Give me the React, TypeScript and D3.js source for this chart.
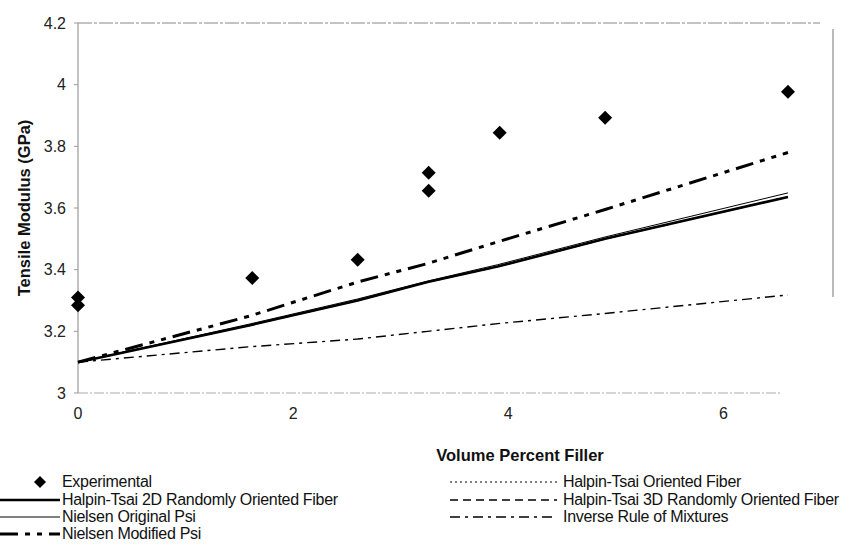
import React from "react";
import * as d3 from "d3";

const W = 852;
const H = 545;

const xTicks = [0, 2, 4, 6];
const yTicks = [3, 3.2, 3.4, 3.6, 3.8, 4, 4.2];

const expX = [0, 0, 1.62, 2.6, 3.26, 3.26, 3.92, 4.9, 6.6];
const expY = [3.31, 3.285, 3.373, 3.432, 3.714, 3.656, 3.844, 3.893, 3.977];

const modelX = [0, 1.6, 2.6, 3.25, 3.9, 4.9, 6.6];
const htOriented = [3.1, 3.22, 3.3, 3.36, 3.41, 3.5, 3.636];
const ht2D = [3.1, 3.22, 3.3, 3.36, 3.41, 3.5, 3.636];
const ht3D = [3.1, 3.22, 3.3, 3.36, 3.41, 3.5, 3.636];
const nielsenOrig = [3.1, 3.224, 3.305, 3.363, 3.416, 3.506, 3.649];
const inverseROM = [3.1, 3.15, 3.175, 3.2, 3.225, 3.258, 3.318];
const nielsenMod = [3.1, 3.25, 3.36, 3.42, 3.49, 3.595, 3.78];

const FONT = "'Liberation Sans', Arial, sans-serif";

type Style = { w: number; dash?: string };
const styles: Record<string, Style> = {
  htOriented: { w: 1, dash: "2,3" },
  ht2D: { w: 2.6 },
  ht3D: { w: 1.5, dash: "8,5" },
  nielsenOrig: { w: 1 },
  inverseROM: { w: 1.4, dash: "10,5,3,5" },
  nielsenMod: { w: 3, dash: "18,7,5,7,5,7" },
};

export default function App() {
  const x = d3.scaleLinear().domain([0, 7]).range([78, 831]);
  const y = d3.scaleLinear().domain([3, 4.2]).range([393, 23]);
  const line = (vals: number[]) =>
    d3
      .line<number>()
      .x((_, i) => x(modelX[i]))
      .y((v) => y(v))(vals) as string;

  const series: [string, number[]][] = [
    ["htOriented", htOriented],
    ["ht3D", ht3D],
    ["inverseROM", inverseROM],
    ["nielsenOrig", nielsenOrig],
    ["ht2D", ht2D],
    ["nielsenMod", nielsenMod],
  ];

  const diamond = (cx: number, cy: number, r: number) =>
    `M${cx},${cy - r}L${cx + r},${cy}L${cx},${cy + r}L${cx - r},${cy}Z`;

  const legendLeft: [string, string][] = [
    ["exp", "Experimental"],
    ["ht2D", "Halpin-Tsai 2D Randomly Oriented Fiber"],
    ["nielsenOrig", "Nielsen Original Psi"],
    ["nielsenMod", "Nielsen Modified Psi"],
  ];
  const legendRight: [string, string][] = [
    ["htOriented", "Halpin-Tsai Oriented Fiber"],
    ["ht3D", "Halpin-Tsai 3D Randomly Oriented Fiber"],
    ["inverseROM", "Inverse Rule of Mixtures"],
  ];
  const rowY = [487, 505, 522, 539];

  return (
    <svg width={W} height={H} style={{ position: "absolute", left: 0, top: 0, background: "#fff" }}>
      <line x1={78} x2={820} y1={23} y2={23} stroke="#888" strokeWidth={1} strokeDasharray="14,2,3,2" />
      <line x1={833} x2={833} y1={29} y2={297} stroke="#777" strokeWidth={1} />
      <line x1={78} x2={78} y1={23} y2={393} stroke="#999" strokeWidth={1.2} />
      {yTicks.map((t) => (
        <g key={t}>
          <line x1={74} x2={78} y1={y(t)} y2={y(t)} stroke="#999" />
          <text x={66} y={y(t) + 5.5} fontSize={16} fontFamily={FONT} textAnchor="end" fill="#222">
            {String(t)}
          </text>
        </g>
      ))}
      <line x1={78} x2={780} y1={393} y2={393} stroke="#aaa" strokeWidth={1} strokeDasharray="10,2,2,2" />
      {xTicks.map((t) => (
        <text key={t} x={x(t)} y={419} fontSize={16} fontFamily={FONT} textAnchor="middle" fill="#222">
          {String(t)}
        </text>
      ))}
      <text
        transform={`translate(30,${(23 + 393) / 2}) rotate(-90)`}
        fontSize={16.5}
        fontWeight="bold"
        fontFamily={FONT}
        textAnchor="middle"
        fill="#111"
      >
        Tensile Modulus (GPa)
      </text>
      <text x={520} y={461} fontSize={16.5} fontWeight="bold" fontFamily={FONT} textAnchor="middle" fill="#111">
        Volume Percent Filler
      </text>
      {series.map(([k, vals]) => (
        <path
          key={k}
          d={line(vals)}
          fill="none"
          stroke="#000"
          strokeWidth={styles[k].w}
          strokeDasharray={styles[k].dash}
        />
      ))}
      {expX.map((xv, i) => (
        <path key={i} d={diamond(x(xv), y(expY[i]), 7)} fill="#000" />
      ))}
      {legendLeft.map(([k, label], i) => (
        <g key={k}>
          {k === "exp" ? (
            <path d={diamond(40, rowY[i] - 5, 6)} fill="#000" />
          ) : (
            <line
              x1={0}
              x2={60}
              y1={rowY[i] - 5}
              y2={rowY[i] - 5}
              stroke="#000"
              strokeWidth={styles[k].w}
              strokeDasharray={styles[k].dash}
            />
          )}
          <text x={62} y={rowY[i]} fontSize={16} fontFamily={FONT} fill="#111" letterSpacing={-0.3}>
            {label}
          </text>
        </g>
      ))}
      {legendRight.map(([k, label], i) => (
        <g key={k}>
          <line
            x1={450}
            x2={557}
            y1={rowY[i] - 5}
            y2={rowY[i] - 5}
            stroke="#000"
            strokeWidth={k === "htOriented" ? 1 : styles[k].w}
            strokeDasharray={styles[k].dash}
          />
          <text x={563} y={rowY[i]} fontSize={16} fontFamily={FONT} fill="#111" letterSpacing={-0.3}>
            {label}
          </text>
        </g>
      ))}
    </svg>
  );
}
